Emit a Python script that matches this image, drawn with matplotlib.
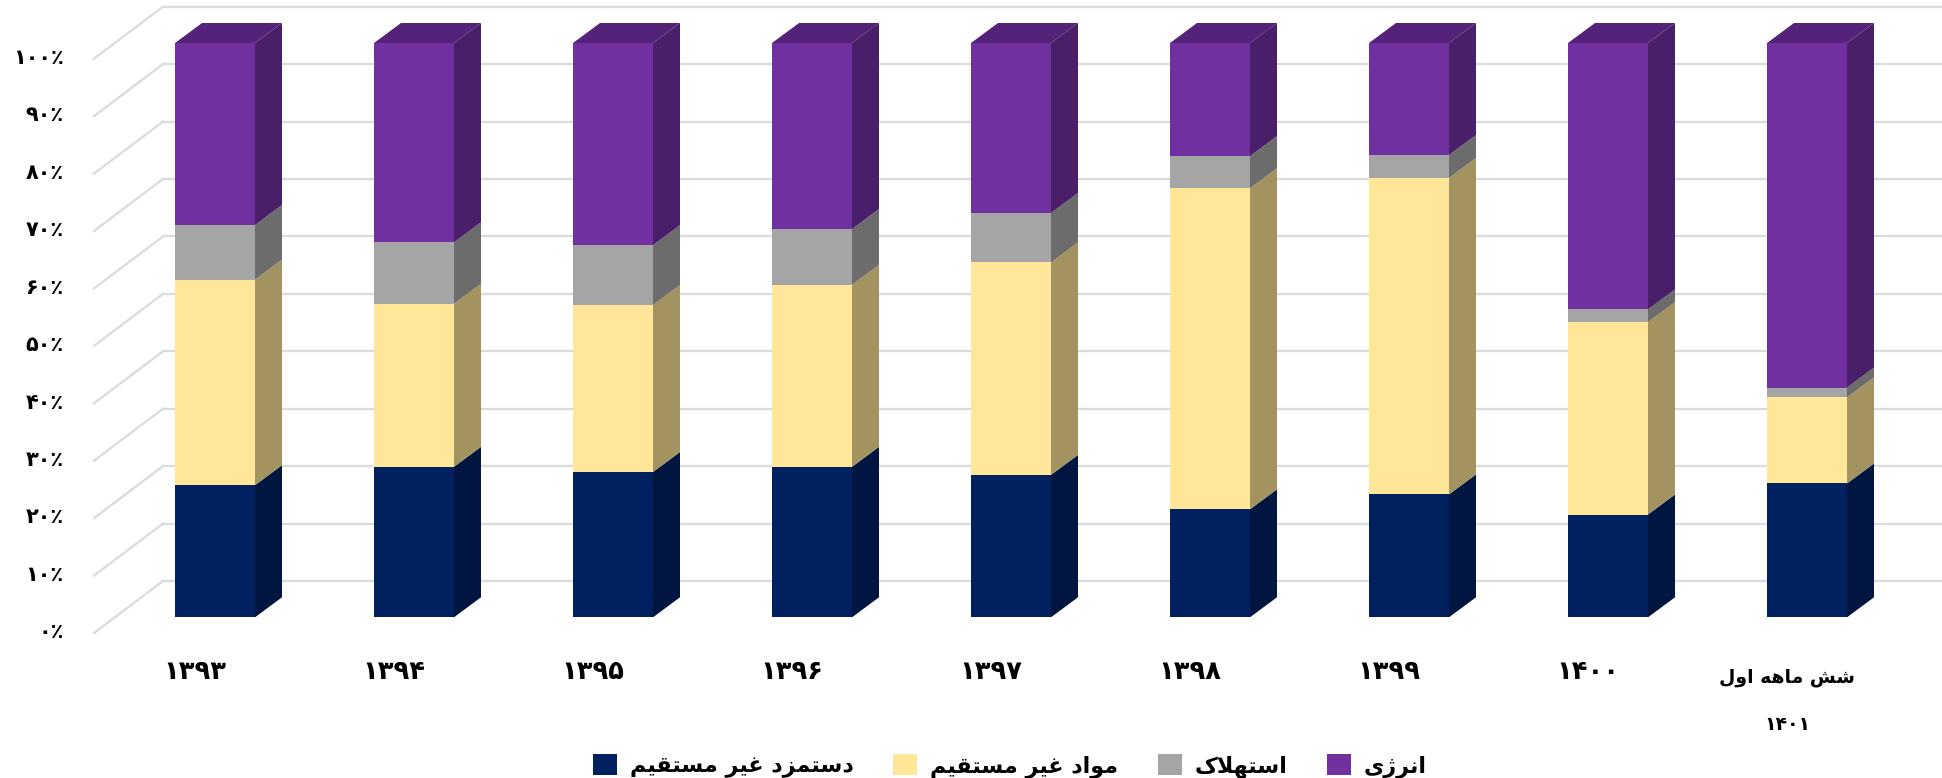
import matplotlib
matplotlib.use('Agg')
import matplotlib.pyplot as plt
from matplotlib.transforms import ScaledTranslation

plt.rcParams['font.family'] = ['DejaVu Sans']
plt.rcParams['font.weight'] = 'bold'

categories = ['۱۳۹۳', '۱۳۹۴', '۱۳۹۵', '۱۳۹۶', '۱۳۹۷', '۱۳۹۸', '۱۳۹۹', '۱۴۰۰', 'شش ماهه اول\n۱۴۰۱']
wages = [23.0, 26.2, 25.3, 26.2, 24.8, 18.8, 21.4, 17.9, 23.3]
materials = [35.8, 28.4, 29.1, 31.7, 37.0, 55.9, 55.1, 33.5, 15.0]
depreciation = [9.5, 10.7, 10.4, 9.7, 8.6, 5.6, 4.0, 2.2, 1.7]
energy = [31.7, 34.7, 35.2, 32.4, 29.6, 19.7, 19.5, 46.4, 60.0]
series_names = ['دستمزد غیر مستقیم', 'مواد غیر مستقیم', 'استهلاک', 'انرژی']
y_ticks = [0, 10, 20, 30, 40, 50, 60, 70, 80, 90, 100]
y_tick_labels = ['۰٪', '۱۰٪', '۲۰٪', '۳۰٪', '۴۰٪', '۵۰٪', '۶۰٪', '۷۰٪', '۸۰٪', '۹۰٪', '۱۰۰٪']

front_colors = ['#002060', '#FFE699', '#A5A5A5', '#7030A0']
side_colors = ['#00153F', '#A29360', '#6C6C6C', '#4A1F69']
top_color = '#542379'

# matplotlib does not shape arabic, so map letters to their presentation forms
FORMS = {
    'ا': (0xFE8D, 0xFE8E), 'د': (0xFEA9, 0xFEAA), 'ر': (0xFEAD, 0xFEAE),
    'ز': (0xFEAF, 0xFEB0), 'ژ': (0xFB8A, 0xFB8B), 'و': (0xFEED, 0xFEEE),
    'س': (0xFEB1, 0xFEB2, 0xFEB3, 0xFEB4), 'ش': (0xFEB5, 0xFEB6, 0xFEB7, 0xFEB8),
    'ت': (0xFE95, 0xFE96, 0xFE97, 0xFE98), 'غ': (0xFECD, 0xFECE, 0xFECF, 0xFED0),
    'ق': (0xFED5, 0xFED6, 0xFED7, 0xFED8), 'ک': (0xFB8E, 0xFB8F, 0xFB90, 0xFB91),
    'ل': (0xFEDD, 0xFEDE, 0xFEDF, 0xFEE0), 'م': (0xFEE1, 0xFEE2, 0xFEE3, 0xFEE4),
    'ن': (0xFEE5, 0xFEE6, 0xFEE7, 0xFEE8), 'ه': (0xFEE9, 0xFEEA, 0xFEEB, 0xFEEC),
    'ی': (0xFBFC, 0xFBFD, 0xFBFE, 0xFBFF),
}


def shape_line(line):
    if not any(c in FORMS for c in line):
        return line
    out = []
    i = 0
    prev_joins = False
    while i < len(line):
        c = line[i]
        if c not in FORMS:
            out.append(c)
            prev_joins = False
            i += 1
            continue
        if c == 'ل' and i + 1 < len(line) and line[i + 1] == 'ا':
            out.append(chr(0xFEFC if prev_joins else 0xFEFB))
            prev_joins = False
            i += 2
            continue
        forms = FORMS[c]
        next_letter = i + 1 < len(line) and line[i + 1] in FORMS
        joins_next = len(forms) == 4 and next_letter
        if prev_joins:
            out.append(chr(forms[3] if joins_next else forms[1]))
        else:
            out.append(chr(forms[2] if joins_next else forms[0]))
        prev_joins = joins_next
        i += 1
    return ''.join(reversed(out))


def shape(text):
    return '\n'.join(shape_line(line) for line in text.split('\n'))


W, H = 1942, 778
fig = plt.figure(figsize=(W / 100, H / 100), dpi=100)
# axes box is the front plane of the bars, 0% at y=617 and 100% at y=43
left, right, y0, y100 = 94, W, 617.3, 43
ax = fig.add_axes([left / W, 1 - y0 / H, (right - left) / W, (y0 - y100) / H])
step = 199.0
ax.set_xlim((left - 215) / step, (right - 215) / step)
ax.set_ylim(0, 100)
px_y = 100 / (y0 - y100)
px_x = 1 / step

bar_w = 80 * px_x
depth_x, depth_y = 27 * px_x, 20 * px_y
wall_x = (163 - left) * px_x + ax.get_xlim()[0]
wall_dy = 36.3 * px_y
floor_dy = -15.7 * px_y

# grid: back wall lines and the slanted floor lines
for t in y_ticks:
    ax.plot([wall_x, ax.get_xlim()[1]], [t + wall_dy] * 2, color='#DCDCDC', lw=1.7, zorder=1, clip_on=False)
    ax.plot([ax.get_xlim()[0], wall_x], [t + floor_dy, t + wall_dy], color='#DCDCDC', lw=1.7, zorder=1, clip_on=False)

x = list(range(len(categories)))
bottoms = [0] * len(x)
for vals, name, fc, sc in zip([wages, materials, depreciation, energy], series_names, front_colors, side_colors):
    ax.bar(x, vals, bar_w, bottom=bottoms, color=fc, label=shape(name), zorder=3, clip_on=False)
    for i, v in enumerate(vals):
        xr = i + bar_w / 2
        yb, yt = bottoms[i], bottoms[i] + v
        ax.fill([xr, xr + depth_x, xr + depth_x, xr], [yb, yb + depth_y, yt + depth_y, yt],
                color=sc, lw=0, zorder=3, clip_on=False)
    bottoms = [b + v for b, v in zip(bottoms, vals)]

for i, top in enumerate(bottoms):
    xl, xr = i - bar_w / 2, i + bar_w / 2
    ax.fill([xl, xr, xr + depth_x, xl + depth_x], [top, top, top + depth_y, top + depth_y],
            color=top_color, lw=0, zorder=3, clip_on=False)

for s in ax.spines.values():
    s.set_visible(False)
ax.set_yticks(y_ticks)
ax.set_yticklabels(y_tick_labels, fontsize=15)
ax.tick_params(axis='y', length=0, pad=22)
ax.set_xticks(x)
ax.set_xticklabels([shape(c) for c in categories], fontsize=18.5, linespacing=2.85)
ax.tick_params(axis='x', length=0, pad=30)
ax.get_xticklabels()[-1].set_fontsize(13.5)

# labels sit a little away from the bars, as in the 3d chart
for lab in ax.get_yticklabels():
    lab.set_transform(lab.get_transform() + ScaledTranslation(0, -13 / 100, fig.dpi_scale_trans))
for lab in ax.get_xticklabels()[:-1]:
    lab.set_transform(lab.get_transform() + ScaledTranslation(-20 / 100, 0, fig.dpi_scale_trans))
last = ax.get_xticklabels()[-1]
last.set_transform(last.get_transform() + ScaledTranslation(-20 / 100, -9 / 100, fig.dpi_scale_trans))

ax.legend(loc='center', bbox_to_anchor=(1010 / W, 1 - 766 / H), bbox_transform=fig.transFigure, ncol=4,
          frameon=False, fontsize=16, handlelength=1.08, handleheight=1.08, handletextpad=0.56, columnspacing=1.8,
          borderpad=0)

fig.savefig('out.png', dpi=100)
